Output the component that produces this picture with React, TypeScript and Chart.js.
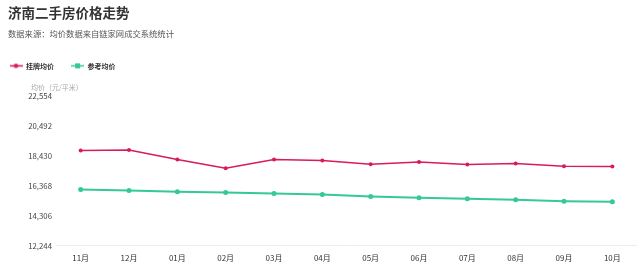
import React, { useEffect, useRef } from "react";
import { Chart, registerables, layouts } from "chart.js";

Chart.register(...registerables);

const months = ["11月", "12月", "01月", "02月", "03月", "04月", "05月", "06月", "07月", "08月", "09月", "10月"];
const listingPrice = [18794, 18842, 18175, 17584, 18180, 18107, 17859, 18017, 17832, 17901, 17722, 17694];
const referencePrice = [16114, 16045, 15955, 15907, 15839, 15770, 15632, 15543, 15474, 15406, 15316, 15268];
const yTickValues = [12244, 14306, 16368, 18430, 20492, 22554];
const seriesNames = ["挂牌均价", "参考均价"];
const titleText = "济南二手房价格走势";
const subtitleText = "数据来源：均价数据来自链家网成交系统统计";
const unitText = "均价（元/平米）";

const RED = "#d81b5c";
const GREEN = "#35c995";
const FONT = "'Noto Sans CJK SC', 'Noto Sans', sans-serif";

function makeMarker(color: string, square: boolean) {
  const c = document.createElement("canvas");
  c.width = 13;
  c.height = 7;
  const ctx = c.getContext("2d")!;
  ctx.strokeStyle = color;
  ctx.lineWidth = 1.5;
  ctx.beginPath();
  ctx.moveTo(0, 3.5);
  ctx.lineTo(13, 3.5);
  ctx.stroke();
  ctx.fillStyle = color;
  if (square) {
    ctx.fillRect(4, 1, 5, 5);
  } else {
    ctx.beginPath();
    ctx.arc(6.5, 3.5, 2.3, 0, Math.PI * 2);
    ctx.fill();
  }
  return c;
}

const unitBoxPlugin = {
  id: "unitBox",
  beforeInit(chart: any) {
    const box: any = {
      position: "top",
      weight: 500,
      fullSize: true,
      options: {},
      left: 0,
      top: 0,
      right: 0,
      bottom: 0,
      width: 0,
      height: 0,
      isHorizontal() {
        return true;
      },
      update(maxWidth: number) {
        this.width = maxWidth;
        this.height = 16.6;
      },
      draw() {
        const ctx = chart.ctx;
        const ys = chart.scales.y;
        ctx.save();
        ctx.font = `7px ${FONT}`;
        ctx.fillStyle = "#aaaaaa";
        ctx.textBaseline = "middle";
        ctx.textAlign = "left";
        ctx.fillText(unitText, ys.left + 23, this.top + this.height / 2);
        ctx.restore();
      },
    };
    layouts.addBox(chart, box);
  },
};

export default function App() {
  const ref = useRef<HTMLCanvasElement | null>(null);

  useEffect(() => {
    if (!ref.current) return;
    document.body.style.margin = "0";
    const markers = [makeMarker(RED, false), makeMarker(GREEN, true)];
    const chart = new Chart(ref.current, {
      type: "line",
      data: {
        labels: months,
        datasets: [
          {
            label: seriesNames[0],
            data: listingPrice,
            borderColor: RED,
            backgroundColor: RED,
            borderWidth: 1.5,
            pointRadius: 2,
            pointHoverRadius: 2,
            pointBorderWidth: 0,
            tension: 0,
          },
          {
            label: seriesNames[1],
            data: referencePrice,
            borderColor: GREEN,
            backgroundColor: GREEN,
            borderWidth: 2,
            pointRadius: 2.5,
            pointHoverRadius: 2.5,
            pointBorderWidth: 0,
            tension: 0,
          },
        ],
      },
      plugins: [unitBoxPlugin],
      options: {
        responsive: false,
        animation: false,
        layout: { padding: { left: 8, right: 3.5, top: 0, bottom: -3.4 } },
        plugins: {
          title: {
            display: true,
            text: titleText,
            align: "start",
            color: "#333333",
            font: { family: FONT, size: 13.5, weight: "bold" },
            padding: { top: 5, bottom: 7.6 },
          },
          subtitle: {
            display: true,
            text: subtitleText,
            align: "start",
            color: "#555555",
            font: { family: FONT, size: 8.3 },
            padding: { top: 0, bottom: 22.1 },
          },
          legend: {
            display: true,
            position: "top",
            align: "start",
            labels: {
              usePointStyle: true,
              pointStyleWidth: 13,
              padding: 1.5,
              color: "#333333",
              font: { family: FONT, size: 7, weight: "bold" },
              generateLabels(ch: any) {
                const items = Chart.defaults.plugins.legend.labels.generateLabels(ch);
                return items.map((it: any, i: number) => ({
                  ...it,
                  text: i === 0 ? it.text + "\u3000\u3000 " : it.text,
                  pointStyle: markers[i],
                }));
              },
            },
          },
          tooltip: { enabled: false },
        },
        scales: {
          x: {
            type: "category",
            offset: true,
            grid: { display: false, drawTicks: false },
            border: { display: true, color: "#ececec", width: 1 },
            ticks: {
              color: "#333333",
              padding: 7,
              font: { family: FONT, size: 8 },
              maxRotation: 0,
              autoSkip: false,
            },
          },
          y: {
            type: "linear",
            min: yTickValues[0],
            max: yTickValues[yTickValues.length - 1],
            grid: { display: false, drawTicks: false },
            border: { display: false },
            afterBuildTicks(scale: any) {
              scale.ticks = yTickValues.map((v) => ({ value: v }));
            },
            afterFit(scale: any) {
              scale.width = 48.5;
            },
            ticks: {
              color: "#444444",
              padding: 4.5,
              font: { family: FONT, size: 7.8 },
              callback: (v: any) => Number(v).toLocaleString("en-US"),
            },
          },
        },
      },
    });
    return () => chart.destroy();
  }, []);

  return (
    <div style={{ position: "fixed", left: 0, top: 0, width: 640, height: 266 }}>
      <canvas ref={ref} width={640} height={266} style={{ display: "block" }} />
    </div>
  );
}
